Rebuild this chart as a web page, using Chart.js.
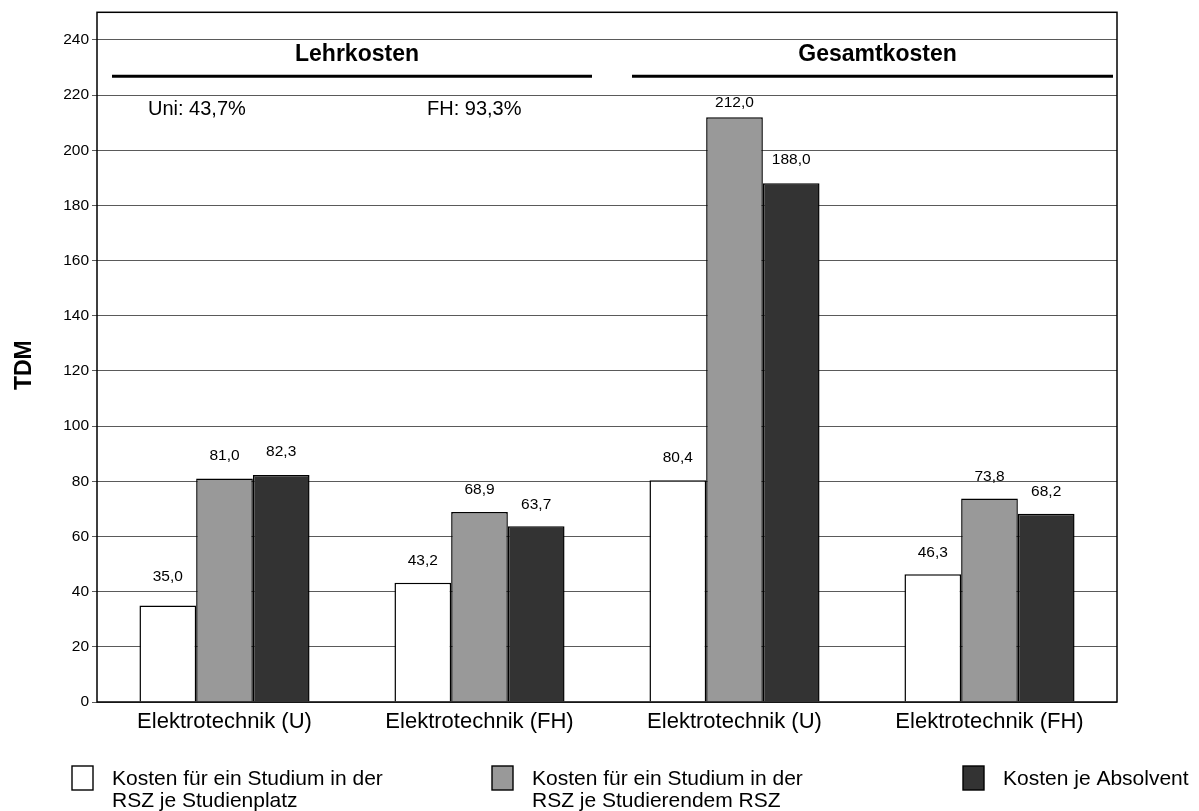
<!DOCTYPE html>
<html lang="de">
<head>
<meta charset="utf-8">
<title>Kosten Elektrotechnik</title>
<script src="https://cdn.jsdelivr.net/npm/chart.js@4.4.1/dist/chart.umd.min.js"></script>
<style>
  html, body { margin: 0; padding: 0; background: #ffffff; }
  #wrap { width: 1199px; height: 811px; position: relative; }
</style>
</head>
<body>
<div id="wrap"><canvas id="c" width="1199" height="811"></canvas></div>
<script>
// Categories and series values (TDM)
const categories = ['Elektrotechnik (U)', 'Elektrotechnik (FH)', 'Elektrotechnik (U)', 'Elektrotechnik (FH)'];
const kostenStudienplatz = [35.0, 43.2, 80.4, 46.3];
const kostenStudierendem = [81.0, 68.9, 212.0, 73.8];
const kostenAbsolvent = [82.3, 63.7, 188.0, 68.2];
const seriesNames = [
  ['Kosten für ein Studium in der', 'RSZ je Studienplatz'],
  ['Kosten für ein Studium in der', 'RSZ je Studierendem RSZ'],
  ['Kosten je Absolvent']
];
const sectionTitles = ['Lehrkosten', 'Gesamtkosten'];
const shareNotes = ['Uni: 43,7%', 'FH: 93,3%'];
const yTicks = [0, 20, 40, 60, 80, 100, 120, 140, 160, 180, 200, 220, 240];
const yAxisTitle = 'TDM';

const FONT = '"Liberation Sans", Arial, Helvetica, sans-serif';
const fmt = v => v.toFixed(1).replace('.', ',');

// Frame round the plot area
const framePlugin = {
  id: 'frame',
  afterDatasetsDraw(chart) {
    const { ctx, chartArea: a } = chart;
    ctx.save();
    ctx.strokeStyle = '#000';
    ctx.lineWidth = 1.5;
    ctx.strokeRect(a.left, a.top, a.right - a.left, a.bottom - a.top);
    ctx.restore();
  }
};

// Value labels above bars (gap between label centre and bar top, per series/group)
const labelGap = [
  [29, 22, 22, 22],
  [23, 22, 14, 22],
  [23, 22, 24, 22]
];
const valueLabels = {
  id: 'valueLabels',
  afterDatasetsDraw(chart) {
    const { ctx } = chart;
    ctx.save();
    ctx.font = '15.5px ' + FONT;
    ctx.fillStyle = '#000';
    ctx.textAlign = 'center';
    ctx.textBaseline = 'middle';
    chart.data.datasets.forEach((ds, i) => {
      chart.getDatasetMeta(i).data.forEach((bar, j) => {
        ctx.fillText(fmt(ds.data[j]), bar.x, bar.y - labelGap[i][j]);
      });
    });
    ctx.restore();
  }
};

// Section headings with rules, plus share notes
const sections = {
  id: 'sections',
  afterDatasetsDraw(chart) {
    const { ctx, scales: { x, y } } = chart;
    const half = (x.getPixelForValue(1) - x.getPixelForValue(0)) / 2;
    const groups = [[0, 1], [2, 3]];
    ctx.save();
    groups.forEach((g, i) => {
      const left = x.getPixelForValue(g[0]) - half + (i === 0 ? 15 : 25);
      const right = x.getPixelForValue(g[1]) + half - (i === 0 ? 15 : 4);
      const ly = y.getPixelForValue(226.8);
      ctx.strokeStyle = '#000';
      ctx.lineWidth = 3;
      ctx.beginPath();
      ctx.moveTo(left, ly);
      ctx.lineTo(right, ly);
      ctx.stroke();
      ctx.fillStyle = '#000';
      ctx.font = 'bold 23px ' + FONT;
      ctx.textAlign = 'center';
      ctx.textBaseline = 'middle';
      ctx.fillText(sectionTitles[i], (left + right) / 2 + 5, y.getPixelForValue(234.5));
    });
    ctx.font = '20px ' + FONT;
    ctx.textAlign = 'left';
    ctx.textBaseline = 'middle';
    const ny = y.getPixelForValue(214.6);
    ctx.fillText(shareNotes[0], x.getPixelForValue(0) - half + 51, ny);
    ctx.fillText(shareNotes[1], x.getPixelForValue(1) - half + 75, ny);
    ctx.restore();
  }
};

// Rotated y-axis title
const yTitle = {
  id: 'yTitle',
  afterDraw(chart) {
    const { ctx, chartArea: a } = chart;
    ctx.save();
    ctx.translate(25, (a.top + a.bottom) / 2 + 8);
    ctx.rotate(-Math.PI / 2);
    ctx.font = 'bold 23px ' + FONT;
    ctx.fillStyle = '#000';
    ctx.textAlign = 'center';
    ctx.textBaseline = 'middle';
    ctx.fillText(yAxisTitle, 0, 0);
    ctx.restore();
  }
};

// Legend below the chart
const legendBelow = {
  id: 'legendBelow',
  afterDraw(chart) {
    const { ctx } = chart;
    const boxLeft = [72, 492, 963];
    ctx.save();
    chart.data.datasets.forEach((ds, i) => {
      const bx = boxLeft[i], by = 766;
      ctx.fillStyle = ds.backgroundColor;
      ctx.fillRect(bx, by, 21, 24);
      ctx.strokeStyle = '#000';
      ctx.lineWidth = 1.4;
      ctx.strokeRect(bx, by, 21, 24);
      ctx.fillStyle = '#000';
      ctx.font = '21px ' + FONT;
      ctx.textAlign = 'left';
      ctx.textBaseline = 'middle';
      seriesNames[i].forEach((line, k) => {
        ctx.fillText(line, bx + 40, 779 + k * 22);
      });
    });
    ctx.restore();
  }
};

new Chart(document.getElementById('c'), {
  type: 'bar',
  data: {
    labels: categories,
    datasets: [
      { label: seriesNames[0].join(' '), data: kostenStudienplatz, backgroundColor: '#ffffff' },
      { label: seriesNames[1].join(' '), data: kostenStudierendem, backgroundColor: '#999999' },
      { label: seriesNames[2].join(' '), data: kostenAbsolvent, backgroundColor: '#333333' }
    ].map(d => Object.assign(d, {
      borderColor: '#000000',
      borderWidth: 1.5,
      categoryPercentage: 0.667,
      barPercentage: 1.0
    }))
  },
  options: {
    responsive: false,
    animation: false,
    devicePixelRatio: 1,
    layout: { padding: { left: 0, top: 11, right: 82, bottom: 0 } },
    plugins: {
      legend: { display: false },
      tooltip: { enabled: false }
    },
    scales: {
      x: {
        grid: { display: false, drawTicks: false },
        border: { display: false },
        ticks: { color: '#000', font: { family: FONT, size: 22 }, padding: 7 },
        afterFit(s) { s.height = 109; }
      },
      y: {
        min: 0,
        max: 250,
        afterBuildTicks(s) { s.ticks = yTicks.map(v => ({ value: v })); },
        grid: { color: '#5a5a5a', lineWidth: 1, tickLength: 5, drawOnChartArea: true },
        border: { display: false },
        ticks: {
          color: '#000',
          font: { family: FONT, size: 15.5 },
          padding: 3,
          callback: v => String(v)
        },
        title: { display: false },
        afterFit(s) { s.width = 97; }
      }
    }
  },
  plugins: [framePlugin, valueLabels, sections, yTitle, legendBelow]
});
</script>
</body>
</html>
